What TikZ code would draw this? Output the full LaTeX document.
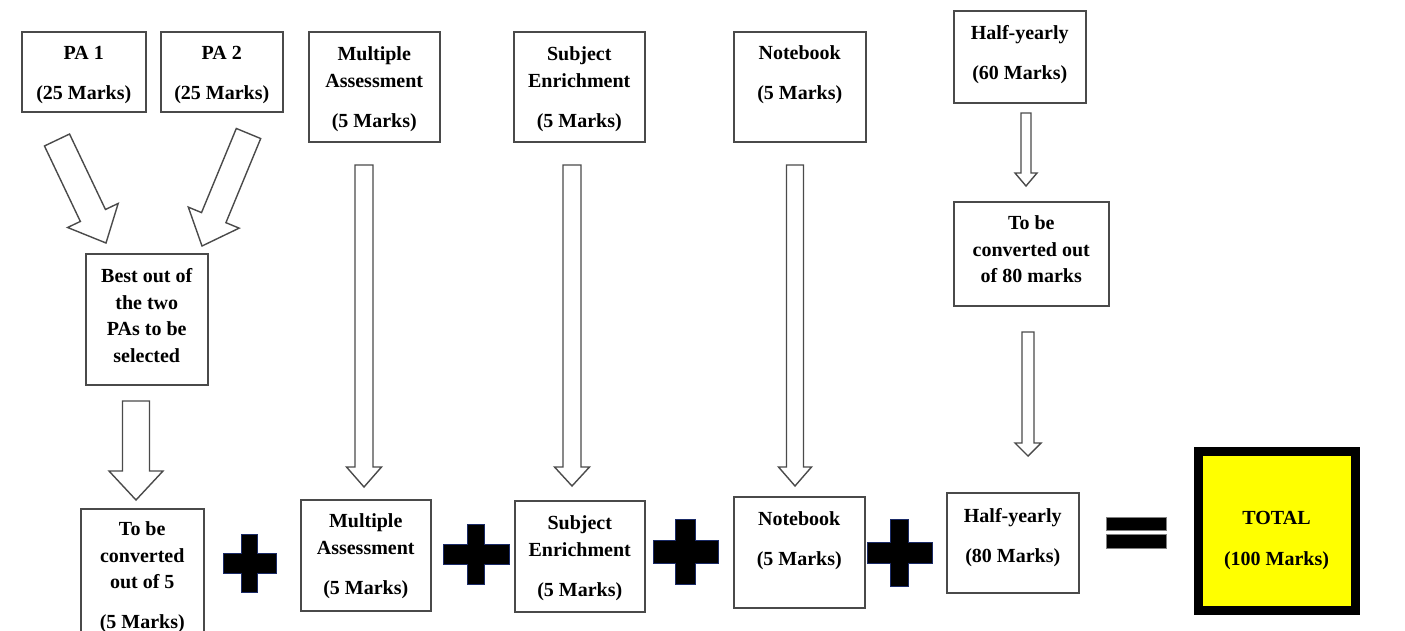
\documentclass[tikz,border=0pt]{standalone}
\usepackage{fontspec}
\setmainfont{Liberation Serif}
\usetikzlibrary{calc}
\definecolor{boxgray}{HTML}{4A4A4A}
\definecolor{plusedge}{HTML}{1A2A66}
\definecolor{totalyellow}{HTML}{FFFF00}
\newcommand\boxtext[4]{\parbox[c][#2pt][t]{#1pt}{\centering\rule{0pt}{#3pt}#4}}
\newcommand\blockarrow[5]{%
  \path ($(#2)!#5!(#1)$) coordinate (bah);
  \draw[barrow] ($(#1)!#3!90:(#2)$) -- ($(bah)!#3!90:(#2)$) -- ($(bah)!#4!90:(#2)$) -- (#2)
    -- ($(bah)!#4!-90:(#2)$) -- ($(bah)!#3!-90:(#2)$) -- ($(#1)!#3!-90:(#2)$) -- cycle;}
\newcommand\plussign[6]{%
  \draw[plusst] (#1-#3,#2-#6) -- (#1-#5,#2-#6) -- (#1-#5,#2-#4) -- (#1+#5,#2-#4) -- (#1+#5,#2-#6)
    -- (#1+#3,#2-#6) -- (#1+#3,#2+#6) -- (#1+#5,#2+#6) -- (#1+#5,#2+#4) -- (#1-#5,#2+#4)
    -- (#1-#5,#2+#6) -- (#1-#3,#2+#6) -- cycle;}
\tikzset{
  box/.style={draw=boxgray, line width=1.5pt, inner sep=0pt, anchor=north west, fill=white,
    font=\fontsize{20}{26.5}\selectfont\bfseries},
  totalbox/.style={draw=black, line width=9pt, fill=totalyellow, inner sep=0pt, anchor=center,
    font=\fontsize{20}{26.5}\selectfont\bfseries},
  barrow/.style={draw=boxgray, line width=1.4pt, fill=white},
  plusst/.style={draw=plusedge, line width=0.8pt, fill=black},
  eqbar/.style={draw=gray, line width=0.8pt, fill=black}
}
\begin{document}
\begin{tikzpicture}[x=1pt,y=-1pt]
\useasboundingbox (0,0) rectangle (1405,630);
\clip (0,0) rectangle (1405,630);
% top row
\node[box] (pa1) at (21,31) {\boxtext{124}{80}{28}{PA 1\\[13.5pt](25 Marks)}};
\node[box] (pa2) at (160,31) {\boxtext{122}{80}{28}{PA 2\\[13.5pt](25 Marks)}};
\node[box] (ma1) at (308,31) {\boxtext{131}{110}{29}{Multiple\\Assessment\\[13.5pt](5 Marks)}};
\node[box] (se1) at (513,31) {\boxtext{131}{110}{29}{Subject\\Enrichment\\[13.5pt](5 Marks)}};
\node[box] (nb1) at (733,31) {\boxtext{132}{110}{28}{Notebook\\[13.5pt](5 Marks)}};
\node[box] (hy1) at (953,10) {\boxtext{132}{92}{29}{Half-yearly\\[13.5pt](60 Marks)}};
% middle
\node[box] (cv) at (953,201) {\boxtext{155}{104}{28}{To be\\converted out\\of 80 marks}};
\node[box] (best) at (85,253) {\boxtext{122}{131}{29}{Best out of\\the two\\PAs to be\\selected}};
% bottom row
\node[box] (tobe) at (80,508) {\boxtext{123}{160}{27}{To be\\converted\\out of 5\\[13pt](5 Marks)}};
\node[box] (ma2) at (300,499) {\boxtext{130}{111}{28}{Multiple\\Assessment\\[14pt](5 Marks)}};
\node[box] (se2) at (514,500) {\boxtext{130}{111}{29}{Subject\\Enrichment\\[13.5pt](5 Marks)}};
\node[box] (nb2) at (733,496) {\boxtext{131}{111}{29}{Notebook\\[13.5pt](5 Marks)}};
\node[box] (hy2) at (946,492) {\boxtext{132}{100}{30}{Half-yearly\\[13.5pt](80 Marks)}};
\node[totalbox] (total) at (1276.5,531) {\boxtext{157}{159}{72.5}{TOTAL\\[14.5pt](100 Marks)}};
% arrow end points
\coordinate (a1s) at (57,140);    \coordinate (a1e) at (106,243);
\coordinate (a2s) at (248.5,133.5); \coordinate (a2e) at (202,246);
\coordinate (a3s) at (136,401);   \coordinate (a3e) at (136,500);
\coordinate (a4s) at (364,165);   \coordinate (a4e) at (364,487);
\coordinate (a5s) at (572,165);   \coordinate (a5e) at (572,486);
\coordinate (a6s) at (795,165);   \coordinate (a6e) at (795,486);
\coordinate (a7s) at (1026,113);  \coordinate (a7e) at (1026,186);
\coordinate (a8s) at (1028,332);  \coordinate (a8e) at (1028,456);
\blockarrow{a1s}{a1e}{13.9pt}{28pt}{30.5pt}
\blockarrow{a2s}{a2e}{13.2pt}{27.5pt}{30.7pt}
\blockarrow{a3s}{a3e}{13.5pt}{27pt}{29pt}
\blockarrow{a4s}{a4e}{9pt}{17.5pt}{20pt}
\blockarrow{a5s}{a5e}{9pt}{17.5pt}{19pt}
\blockarrow{a6s}{a6e}{8.5pt}{16.5pt}{19pt}
\blockarrow{a7s}{a7e}{5pt}{11pt}{13pt}
\blockarrow{a8s}{a8e}{6pt}{13pt}{13pt}
% plus signs
\plussign{249.5}{563}{26.5}{29}{8}{10}
\plussign{476}{554}{33}{30}{8.5}{10}
\plussign{685.5}{551.5}{32.5}{32.5}{10}{11.5}
\plussign{899.5}{552.5}{32.5}{33.5}{9}{10.5}
% equals sign
\draw[eqbar] (1106,517) rectangle (1166,530);
\draw[eqbar] (1106,534) rectangle (1166,548);
\end{tikzpicture}
\end{document}
